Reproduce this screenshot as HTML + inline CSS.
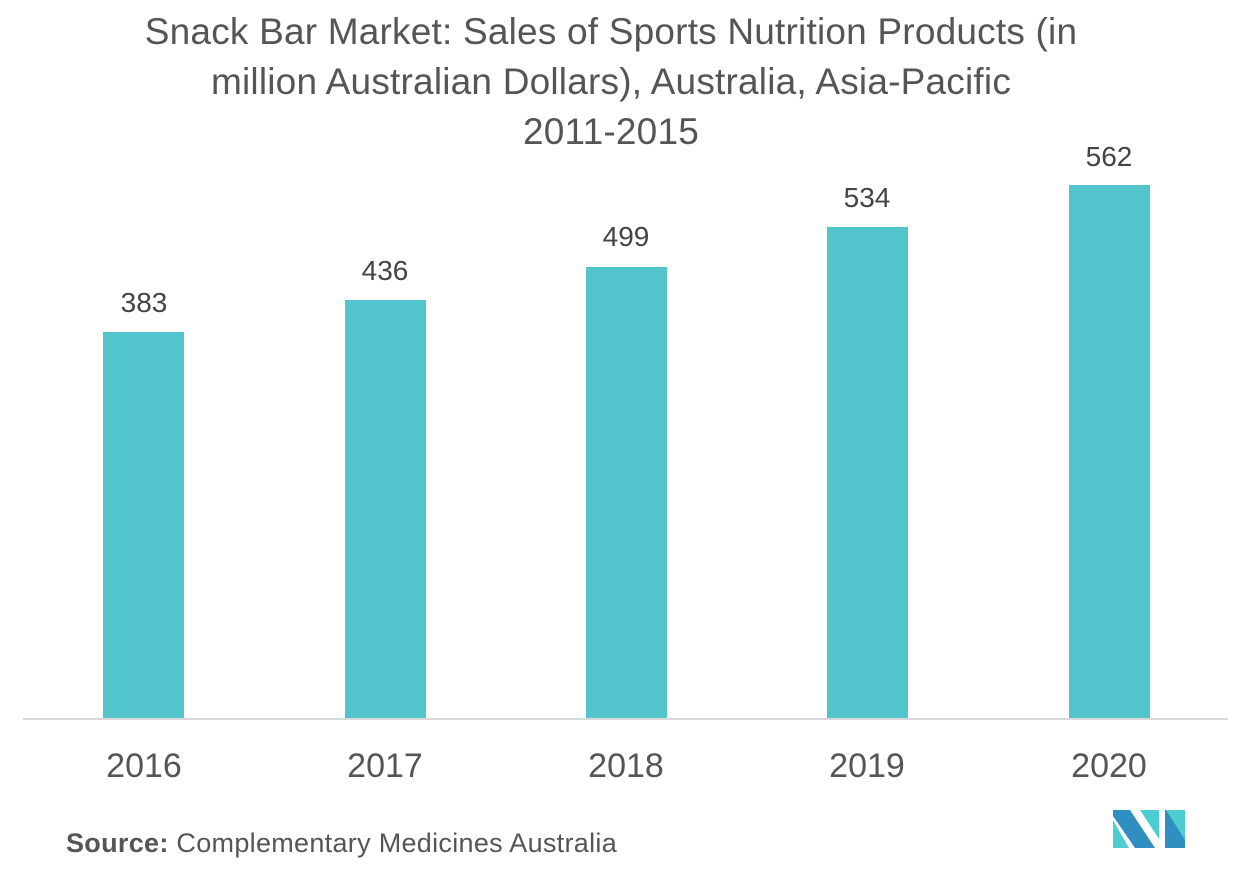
<!DOCTYPE html>
<html><head><style>
body{margin:0;width:1252px;height:881px;background:#fff;font-family:"Liberation Sans",sans-serif;position:relative;overflow:hidden}
.t{position:absolute;left:0;width:1222px;text-align:center;color:#555;font-size:37px;line-height:50px;top:7px;letter-spacing:0.2px}
.b{position:absolute;background:#52c4cb;width:81px}
.v{position:absolute;width:140px;text-align:center;font-size:28px;color:#444}
.x{position:absolute;width:140px;text-align:center;font-size:34px;color:#555;top:747px}
</style></head><body>
<div class="t">Snack Bar Market: Sales of Sports Nutrition Products (in<br>million Australian Dollars), Australia, Asia-Pacific<br>2011-2015</div>
<div class="b" style="left:103px;top:332px;height:387px"></div>
<div class="b" style="left:345px;top:300px;height:419px"></div>
<div class="b" style="left:586px;top:267px;height:452px"></div>
<div class="b" style="left:827px;top:227px;height:492px"></div>
<div class="b" style="left:1069px;top:185px;height:534px"></div>
<div class="v" style="left:74px;top:287px">383</div>
<div class="v" style="left:315px;top:255px">436</div>
<div class="v" style="left:556px;top:221px">499</div>
<div class="v" style="left:797px;top:182px">534</div>
<div class="v" style="left:1039px;top:141px">562</div>
<div style="position:absolute;left:23px;top:718px;width:1205px;height:2px;background:#d9d9d9"></div>
<div class="x" style="left:74px">2016</div>
<div class="x" style="left:315px">2017</div>
<div class="x" style="left:556px">2018</div>
<div class="x" style="left:797px">2019</div>
<div class="x" style="left:1039px">2020</div>
<div style="position:absolute;left:66px;top:828px;font-size:27px;color:#555;letter-spacing:0.3px"><b>Source:</b> Complementary Medicines Australia</div>
<svg style="position:absolute;left:1113px;top:810px" width="74" height="40" viewBox="0 0 74 40">
<polygon points="0,10 0,38 16,38" fill="#4ecdd1"/>
<polygon points="0,0 17,0 42,38 22,38 0,6" fill="#2e8fc0"/>
<polygon points="27,0 46,0 46,29" fill="#4ecdd1"/>
<polygon points="52,0 72,0 72,38 52,38" fill="#2e8fc0"/>
<polygon points="53,0 72,0 72,30" fill="#4ecdd1"/>
</svg>
</body></html>
